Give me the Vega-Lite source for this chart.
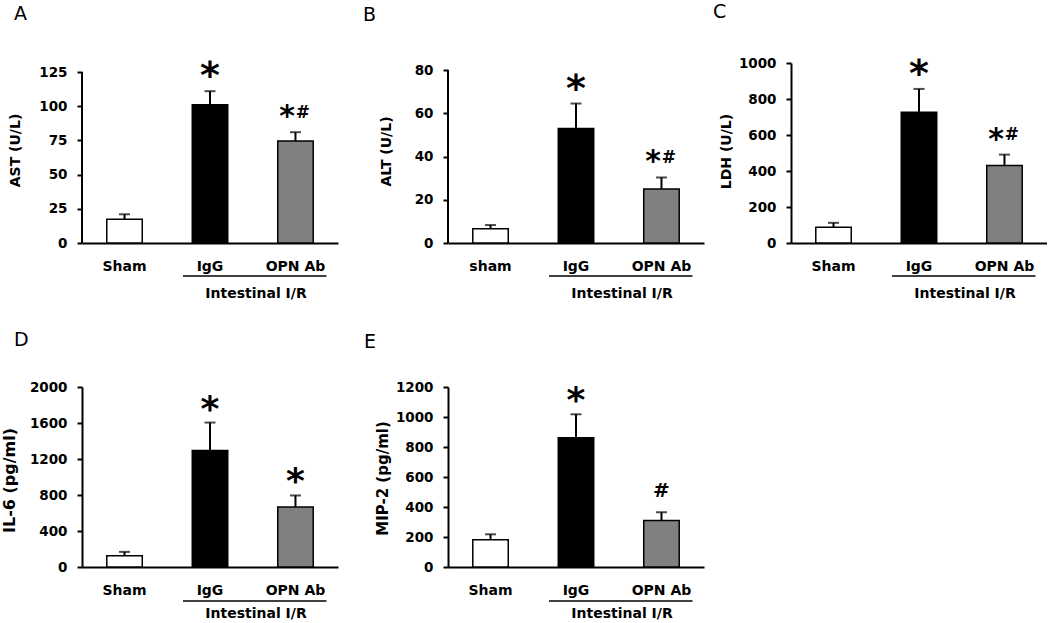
{
  "$schema": "https://vega.github.io/schema/vega-lite/v6.json",
  "padding": {"left": 0, "top": 2, "right": 0, "bottom": 0},
  "background": "white",
  "datasets": {
    "bars": [
      {"panel": "A", "group": "Sham", "value": 17.4, "upper": 21, "sig": ""},
      {"panel": "A", "group": "IgG", "value": 101, "upper": 111, "sig": "*"},
      {"panel": "A", "group": "OPN Ab", "value": 74.6, "upper": 81, "sig": "*#"},
      {"panel": "B", "group": "sham", "value": 6.6, "upper": 8.3, "sig": ""},
      {"panel": "B", "group": "IgG", "value": 53, "upper": 64.5, "sig": "*"},
      {"panel": "B", "group": "OPN Ab", "value": 25, "upper": 30.3, "sig": "*#"},
      {"panel": "C", "group": "Sham", "value": 88, "upper": 112, "sig": ""},
      {"panel": "C", "group": "IgG", "value": 726, "upper": 856, "sig": "*"},
      {"panel": "C", "group": "OPN Ab", "value": 431, "upper": 491, "sig": "*#"},
      {"panel": "D", "group": "Sham", "value": 125, "upper": 168, "sig": ""},
      {"panel": "D", "group": "IgG", "value": 1295, "upper": 1605, "sig": "*"},
      {"panel": "D", "group": "OPN Ab", "value": 668, "upper": 795, "sig": "*"},
      {"panel": "E", "group": "Sham", "value": 182, "upper": 218, "sig": ""},
      {"panel": "E", "group": "IgG", "value": 862, "upper": 1018, "sig": "*"},
      {"panel": "E", "group": "OPN Ab", "value": 310, "upper": 365, "sig": "#"}
    ],
    "brackets": [
      {"panel": "A", "from": "IgG", "to": "OPN Ab", "label": "Intestinal I/R"},
      {"panel": "B", "from": "IgG", "to": "OPN Ab", "label": "Intestinal I/R"},
      {"panel": "C", "from": "IgG", "to": "OPN Ab", "label": "Intestinal I/R"},
      {"panel": "D", "from": "IgG", "to": "OPN Ab", "label": "Intestinal I/R"},
      {"panel": "E", "from": "IgG", "to": "OPN Ab", "label": "Intestinal I/R"}
    ]
  },
  "config": {
    "view": {"stroke": null},
    "font": "DejaVu Sans",
    "axis": {
      "grid": false, "domainColor": "black", "domainWidth": 2, "tickColor": "black", "tickWidth": 2,
      "labelColor": "black", "labelFont": "DejaVu Sans", "labelFontWeight": "bold",
      "titleColor": "black", "titleFont": "DejaVu Sans", "titleFontWeight": "bold",
      "labelOverlap": false
    },
    "axisX": {"ticks": false, "tickSize": 0, "labelPadding": 27.5, "labelBaseline": "alphabetic", "labelFontSize": 14, "labelAngle": 0},
    "axisY": {"tickSize": 5, "labelPadding": 10, "labelFontSize": 13.5, "labelFlush": false, "titleFontSize": 14, "titleAngle": -90, "titleBaseline": "middle", "titleAlign": "center", "format": "d"},
    "title": {"anchor": "start", "frame": "group", "baseline": "alphabetic", "fontSize": 19, "fontWeight": "normal", "font": "DejaVu Sans", "color": "black"}
  },
  "bounds": "flush",
  "align": "each",
  "columns": 5,
  "spacing": {"row": 144, "column": 0},
  "concat": [
    {
      "width": 256, "height": 180,
      "title": {"text": "A", "offset": 34.5, "dx": -68},
      "layer": [
        {"data": {"name": "bars"}, "transform": [{"filter": "datum.panel === 'A'"}],
         "mark": {"type": "bar", "stroke": "black", "strokeWidth": 1.5},
         "encoding": {
           "x": {"field": "group", "type": "nominal", "scale": {"domain": ["Sham", "IgG", "OPN Ab"], "paddingInner": 0.585, "paddingOuter": 0.29}, "axis": {"title": null}},
           "y": {"field": "value", "type": "quantitative", "scale": {"domain": [0, 131.6], "nice": false}, "axis": {"title": "AST (U/L)", "domain": false, "values": [0, 25, 50, 75, 100, 125], "titleX": -67, "titleY": 87}},
           "fill": {"field": "group", "type": "nominal", "scale": {"domain": ["Sham", "sham", "IgG", "OPN Ab"], "range": ["#ffffff", "#ffffff", "#000000", "#808080"]}, "legend": null}
         }},
        {"data": {"name": "bars"}, "transform": [{"filter": "datum.panel === 'A'"}],
         "mark": {"type": "rule", "color": "black", "strokeWidth": 2},
         "encoding": {"x": {"field": "group", "type": "nominal"}, "y": {"field": "value", "type": "quantitative", "axis": {"title": "AST (U/L)", "domain": false, "values": [0, 25, 50, 75, 100, 125], "titleX": -67, "titleY": 87}}, "y2": {"field": "upper"}}},
        {"data": {"name": "bars"}, "transform": [{"filter": "datum.panel === 'A'"}],
         "mark": {"type": "tick", "color": "black", "size": 11, "thickness": 2},
         "encoding": {"x": {"field": "group", "type": "nominal"}, "y": {"field": "upper", "type": "quantitative", "axis": {"title": "AST (U/L)", "domain": false, "values": [0, 25, 50, 75, 100, 125], "titleX": -67, "titleY": 87}}}},
        {"data": {"name": "bars"}, "transform": [{"filter": "datum.panel === 'A' && datum.group === 'Sham'"}],
         "mark": {"type": "rule", "color": "black", "strokeWidth": 2},
         "encoding": {"x": {"value": 0}, "y": {"datum": 0, "type": "quantitative", "axis": {"title": "AST (U/L)", "domain": false, "values": [0, 25, 50, 75, 100, 125], "titleX": -67, "titleY": 87}}, "y2": {"datum": 125}}},
        {"data": {"name": "bars"}, "transform": [{"filter": "datum.panel === 'A' && datum.sig === '*'"}],
         "mark": {"type": "text", "text": "*", "fontSize": 38, "fontWeight": "bold", "align": "center", "baseline": "alphabetic", "dy": -3},
         "encoding": {"x": {"field": "group", "type": "nominal"}, "y": {"field": "upper", "type": "quantitative", "axis": {"title": "AST (U/L)", "domain": false, "values": [0, 25, 50, 75, 100, 125], "titleX": -67, "titleY": 87}}}},
        {"data": {"name": "bars"}, "transform": [{"filter": "datum.panel === 'A' && datum.sig === '*#'"}],
         "mark": {"type": "text", "text": "*", "fontSize": 30, "fontWeight": "bold", "align": "center", "baseline": "alphabetic", "dx": -8.5, "dy": -6},
         "encoding": {"x": {"field": "group", "type": "nominal"}, "y": {"field": "upper", "type": "quantitative", "axis": {"title": "AST (U/L)", "domain": false, "values": [0, 25, 50, 75, 100, 125], "titleX": -67, "titleY": 87}}}},
        {"data": {"name": "bars"}, "transform": [{"filter": "datum.panel === 'A' && datum.sig === '*#'"}],
         "mark": {"type": "text", "text": "#", "fontSize": 17, "fontWeight": "bold", "align": "center", "baseline": "alphabetic", "dx": 7.5, "dy": -14.5},
         "encoding": {"x": {"field": "group", "type": "nominal"}, "y": {"field": "upper", "type": "quantitative", "axis": {"title": "AST (U/L)", "domain": false, "values": [0, 25, 50, 75, 100, 125], "titleX": -67, "titleY": 87}}}},
        {"data": {"name": "brackets"}, "transform": [{"filter": "datum.panel === 'A'"}],
         "mark": {"type": "rule", "color": "black", "strokeWidth": 1.5, "xOffset": -27, "x2Offset": 31, "yOffset": 33},
         "encoding": {"x": {"field": "from", "type": "nominal"}, "x2": {"field": "to"}, "y": {"value": "height"}}},
        {"data": {"name": "brackets"}, "transform": [{"filter": "datum.panel === 'A'"}],
         "mark": {"type": "text", "fontSize": 14, "fontWeight": "bold", "align": "center", "baseline": "alphabetic", "dx": 46, "dy": 55},
         "encoding": {"x": {"field": "from", "type": "nominal"}, "y": {"value": "height"}, "text": {"field": "label"}}}
      ]
    },
    {"width": 110, "height": 1, "data": {"values": []}, "mark": "text", "encoding": {}},
    {
      "width": 256, "height": 180,
      "title": {"text": "B", "offset": 38, "dx": -85},
      "layer": [
        {"data": {"name": "bars"}, "transform": [{"filter": "datum.panel === 'B'"}],
         "mark": {"type": "bar", "stroke": "black", "strokeWidth": 1.5},
         "encoding": {
           "x": {"field": "group", "type": "nominal", "scale": {"domain": ["sham", "IgG", "OPN Ab"], "paddingInner": 0.585, "paddingOuter": 0.29}, "axis": {"title": null}},
           "y": {"field": "value", "type": "quantitative", "scale": {"domain": [0, 83.24], "nice": false}, "axis": {"title": "ALT (U/L)", "domain": false, "values": [0, 20, 40, 60, 80], "titleX": -62, "titleY": 88}},
           "fill": {"field": "group", "type": "nominal", "scale": {"domain": ["Sham", "sham", "IgG", "OPN Ab"], "range": ["#ffffff", "#ffffff", "#000000", "#808080"]}, "legend": null}
         }},
        {"data": {"name": "bars"}, "transform": [{"filter": "datum.panel === 'B'"}],
         "mark": {"type": "rule", "color": "black", "strokeWidth": 2},
         "encoding": {"x": {"field": "group", "type": "nominal"}, "y": {"field": "value", "type": "quantitative", "axis": {"title": "ALT (U/L)", "domain": false, "values": [0, 20, 40, 60, 80], "titleX": -62, "titleY": 88}}, "y2": {"field": "upper"}}},
        {"data": {"name": "bars"}, "transform": [{"filter": "datum.panel === 'B'"}],
         "mark": {"type": "tick", "color": "black", "size": 11, "thickness": 2},
         "encoding": {"x": {"field": "group", "type": "nominal"}, "y": {"field": "upper", "type": "quantitative", "axis": {"title": "ALT (U/L)", "domain": false, "values": [0, 20, 40, 60, 80], "titleX": -62, "titleY": 88}}}},
        {"data": {"name": "bars"}, "transform": [{"filter": "datum.panel === 'B' && datum.group === 'sham'"}],
         "mark": {"type": "rule", "color": "black", "strokeWidth": 2},
         "encoding": {"x": {"value": 0}, "y": {"datum": 0, "type": "quantitative", "axis": {"title": "ALT (U/L)", "domain": false, "values": [0, 20, 40, 60, 80], "titleX": -62, "titleY": 88}}, "y2": {"datum": 80}}},
        {"data": {"name": "bars"}, "transform": [{"filter": "datum.panel === 'B' && datum.sig === '*'"}],
         "mark": {"type": "text", "text": "*", "fontSize": 38, "fontWeight": "bold", "align": "center", "baseline": "alphabetic", "dy": -3},
         "encoding": {"x": {"field": "group", "type": "nominal"}, "y": {"field": "upper", "type": "quantitative", "axis": {"title": "ALT (U/L)", "domain": false, "values": [0, 20, 40, 60, 80], "titleX": -62, "titleY": 88}}}},
        {"data": {"name": "bars"}, "transform": [{"filter": "datum.panel === 'B' && datum.sig === '*#'"}],
         "mark": {"type": "text", "text": "*", "fontSize": 30, "fontWeight": "bold", "align": "center", "baseline": "alphabetic", "dx": -8.5, "dy": -6},
         "encoding": {"x": {"field": "group", "type": "nominal"}, "y": {"field": "upper", "type": "quantitative", "axis": {"title": "ALT (U/L)", "domain": false, "values": [0, 20, 40, 60, 80], "titleX": -62, "titleY": 88}}}},
        {"data": {"name": "bars"}, "transform": [{"filter": "datum.panel === 'B' && datum.sig === '*#'"}],
         "mark": {"type": "text", "text": "#", "fontSize": 17, "fontWeight": "bold", "align": "center", "baseline": "alphabetic", "dx": 7.5, "dy": -14.5},
         "encoding": {"x": {"field": "group", "type": "nominal"}, "y": {"field": "upper", "type": "quantitative", "axis": {"title": "ALT (U/L)", "domain": false, "values": [0, 20, 40, 60, 80], "titleX": -62, "titleY": 88}}}},
        {"data": {"name": "brackets"}, "transform": [{"filter": "datum.panel === 'B'"}],
         "mark": {"type": "rule", "color": "black", "strokeWidth": 1.5, "xOffset": -27, "x2Offset": 31, "yOffset": 33},
         "encoding": {"x": {"field": "from", "type": "nominal"}, "x2": {"field": "to"}, "y": {"value": "height"}}},
        {"data": {"name": "brackets"}, "transform": [{"filter": "datum.panel === 'B'"}],
         "mark": {"type": "text", "fontSize": 14, "fontWeight": "bold", "align": "center", "baseline": "alphabetic", "dx": 46, "dy": 55},
         "encoding": {"x": {"field": "from", "type": "nominal"}, "y": {"value": "height"}, "text": {"field": "label"}}}
      ]
    },
    {"width": 87, "height": 1, "data": {"values": []}, "mark": "text", "encoding": {}},
    {
      "width": 256, "height": 180,
      "title": {"text": "C", "offset": 34, "dx": -78},
      "layer": [
        {"data": {"name": "bars"}, "transform": [{"filter": "datum.panel === 'C'"}],
         "mark": {"type": "bar", "stroke": "black", "strokeWidth": 1.5},
         "encoding": {
           "x": {"field": "group", "type": "nominal", "scale": {"domain": ["Sham", "IgG", "OPN Ab"], "paddingInner": 0.585, "paddingOuter": 0.29}, "axis": {"title": null}},
           "y": {"field": "value", "type": "quantitative", "scale": {"domain": [0, 1000], "nice": false}, "axis": {"title": "LDH (U/L)", "values": [0, 200, 400, 600, 800, 1000], "titleX": -65, "titleY": 88}},
           "fill": {"field": "group", "type": "nominal", "scale": {"domain": ["Sham", "sham", "IgG", "OPN Ab"], "range": ["#ffffff", "#ffffff", "#000000", "#808080"]}, "legend": null}
         }},
        {"data": {"name": "bars"}, "transform": [{"filter": "datum.panel === 'C'"}],
         "mark": {"type": "rule", "color": "black", "strokeWidth": 2},
         "encoding": {"x": {"field": "group", "type": "nominal"}, "y": {"field": "value", "type": "quantitative", "axis": {"title": "LDH (U/L)", "values": [0, 200, 400, 600, 800, 1000], "titleX": -65, "titleY": 88}}, "y2": {"field": "upper"}}},
        {"data": {"name": "bars"}, "transform": [{"filter": "datum.panel === 'C'"}],
         "mark": {"type": "tick", "color": "black", "size": 11, "thickness": 2},
         "encoding": {"x": {"field": "group", "type": "nominal"}, "y": {"field": "upper", "type": "quantitative", "axis": {"title": "LDH (U/L)", "values": [0, 200, 400, 600, 800, 1000], "titleX": -65, "titleY": 88}}}},
        {"data": {"name": "bars"}, "transform": [{"filter": "datum.panel === 'C' && datum.sig === '*'"}],
         "mark": {"type": "text", "text": "*", "fontSize": 38, "fontWeight": "bold", "align": "center", "baseline": "alphabetic", "dy": -3},
         "encoding": {"x": {"field": "group", "type": "nominal"}, "y": {"field": "upper", "type": "quantitative", "axis": {"title": "LDH (U/L)", "values": [0, 200, 400, 600, 800, 1000], "titleX": -65, "titleY": 88}}}},
        {"data": {"name": "bars"}, "transform": [{"filter": "datum.panel === 'C' && datum.sig === '*#'"}],
         "mark": {"type": "text", "text": "*", "fontSize": 30, "fontWeight": "bold", "align": "center", "baseline": "alphabetic", "dx": -8.5, "dy": -6},
         "encoding": {"x": {"field": "group", "type": "nominal"}, "y": {"field": "upper", "type": "quantitative", "axis": {"title": "LDH (U/L)", "values": [0, 200, 400, 600, 800, 1000], "titleX": -65, "titleY": 88}}}},
        {"data": {"name": "bars"}, "transform": [{"filter": "datum.panel === 'C' && datum.sig === '*#'"}],
         "mark": {"type": "text", "text": "#", "fontSize": 17, "fontWeight": "bold", "align": "center", "baseline": "alphabetic", "dx": 7.5, "dy": -14.5},
         "encoding": {"x": {"field": "group", "type": "nominal"}, "y": {"field": "upper", "type": "quantitative", "axis": {"title": "LDH (U/L)", "values": [0, 200, 400, 600, 800, 1000], "titleX": -65, "titleY": 88}}}},
        {"data": {"name": "brackets"}, "transform": [{"filter": "datum.panel === 'C'"}],
         "mark": {"type": "rule", "color": "black", "strokeWidth": 1.5, "xOffset": -27, "x2Offset": 31, "yOffset": 33},
         "encoding": {"x": {"field": "from", "type": "nominal"}, "x2": {"field": "to"}, "y": {"value": "height"}}},
        {"data": {"name": "brackets"}, "transform": [{"filter": "datum.panel === 'C'"}],
         "mark": {"type": "text", "fontSize": 14, "fontWeight": "bold", "align": "center", "baseline": "alphabetic", "dx": 46, "dy": 55},
         "encoding": {"x": {"field": "from", "type": "nominal"}, "y": {"value": "height"}, "text": {"field": "label"}}}
      ]
    },
    {
      "width": 256, "height": 180,
      "title": {"text": "D", "offset": 30, "dx": -68},
      "layer": [
        {"data": {"name": "bars"}, "transform": [{"filter": "datum.panel === 'D'"}],
         "mark": {"type": "bar", "stroke": "black", "strokeWidth": 1.5},
         "encoding": {
           "x": {"field": "group", "type": "nominal", "scale": {"domain": ["Sham", "IgG", "OPN Ab"], "paddingInner": 0.585, "paddingOuter": 0.29}, "axis": {"title": null}},
           "y": {"field": "value", "type": "quantitative", "scale": {"domain": [0, 2000], "nice": false}, "axis": {"title": "IL-6 (pg/ml)", "titleFontSize": 16, "values": [0, 400, 800, 1200, 1600, 2000], "titleX": -73, "titleY": 93}},
           "fill": {"field": "group", "type": "nominal", "scale": {"domain": ["Sham", "sham", "IgG", "OPN Ab"], "range": ["#ffffff", "#ffffff", "#000000", "#808080"]}, "legend": null}
         }},
        {"data": {"name": "bars"}, "transform": [{"filter": "datum.panel === 'D'"}],
         "mark": {"type": "rule", "color": "black", "strokeWidth": 2},
         "encoding": {"x": {"field": "group", "type": "nominal"}, "y": {"field": "value", "type": "quantitative", "axis": {"title": "IL-6 (pg/ml)", "titleFontSize": 16, "values": [0, 400, 800, 1200, 1600, 2000], "titleX": -73, "titleY": 93}}, "y2": {"field": "upper"}}},
        {"data": {"name": "bars"}, "transform": [{"filter": "datum.panel === 'D'"}],
         "mark": {"type": "tick", "color": "black", "size": 11, "thickness": 2},
         "encoding": {"x": {"field": "group", "type": "nominal"}, "y": {"field": "upper", "type": "quantitative", "axis": {"title": "IL-6 (pg/ml)", "titleFontSize": 16, "values": [0, 400, 800, 1200, 1600, 2000], "titleX": -73, "titleY": 93}}}},
        {"data": {"name": "bars"}, "transform": [{"filter": "datum.panel === 'D' && datum.sig === '*'"}],
         "mark": {"type": "text", "text": "*", "fontSize": 36, "fontWeight": "bold", "align": "center", "baseline": "alphabetic", "dy": -2},
         "encoding": {"x": {"field": "group", "type": "nominal"}, "y": {"field": "upper", "type": "quantitative", "axis": {"title": "IL-6 (pg/ml)", "titleFontSize": 16, "values": [0, 400, 800, 1200, 1600, 2000], "titleX": -73, "titleY": 93}}}},
        {"data": {"name": "brackets"}, "transform": [{"filter": "datum.panel === 'D'"}],
         "mark": {"type": "rule", "color": "black", "strokeWidth": 1.5, "xOffset": -27, "x2Offset": 31, "yOffset": 34},
         "encoding": {"x": {"field": "from", "type": "nominal"}, "x2": {"field": "to"}, "y": {"value": "height"}}},
        {"data": {"name": "brackets"}, "transform": [{"filter": "datum.panel === 'D'"}],
         "mark": {"type": "text", "fontSize": 14, "fontWeight": "bold", "align": "center", "baseline": "alphabetic", "dx": 46, "dy": 51},
         "encoding": {"x": {"field": "from", "type": "nominal"}, "y": {"value": "height"}, "text": {"field": "label"}}}
      ]
    },
    {"width": 110, "height": 1, "data": {"values": []}, "mark": "text", "encoding": {}},
    {
      "width": 256, "height": 180,
      "title": {"text": "E", "offset": 28.5, "dx": -84},
      "layer": [
        {"data": {"name": "bars"}, "transform": [{"filter": "datum.panel === 'E'"}],
         "mark": {"type": "bar", "stroke": "black", "strokeWidth": 1.5},
         "encoding": {
           "x": {"field": "group", "type": "nominal", "scale": {"domain": ["Sham", "IgG", "OPN Ab"], "paddingInner": 0.585, "paddingOuter": 0.29}, "axis": {"title": null}},
           "y": {"field": "value", "type": "quantitative", "scale": {"domain": [0, 1200], "nice": false}, "axis": {"title": "MIP-2 (pg/ml)", "titleFontSize": 15, "values": [0, 200, 400, 600, 800, 1000, 1200], "titleX": -66, "titleY": 91}},
           "fill": {"field": "group", "type": "nominal", "scale": {"domain": ["Sham", "sham", "IgG", "OPN Ab"], "range": ["#ffffff", "#ffffff", "#000000", "#808080"]}, "legend": null}
         }},
        {"data": {"name": "bars"}, "transform": [{"filter": "datum.panel === 'E'"}],
         "mark": {"type": "rule", "color": "black", "strokeWidth": 2},
         "encoding": {"x": {"field": "group", "type": "nominal"}, "y": {"field": "value", "type": "quantitative", "axis": {"title": "MIP-2 (pg/ml)", "titleFontSize": 15, "values": [0, 200, 400, 600, 800, 1000, 1200], "titleX": -66, "titleY": 91}}, "y2": {"field": "upper"}}},
        {"data": {"name": "bars"}, "transform": [{"filter": "datum.panel === 'E'"}],
         "mark": {"type": "tick", "color": "black", "size": 11, "thickness": 2},
         "encoding": {"x": {"field": "group", "type": "nominal"}, "y": {"field": "upper", "type": "quantitative", "axis": {"title": "MIP-2 (pg/ml)", "titleFontSize": 15, "values": [0, 200, 400, 600, 800, 1000, 1200], "titleX": -66, "titleY": 91}}}},
        {"data": {"name": "bars"}, "transform": [{"filter": "datum.panel === 'E' && datum.sig === '*'"}],
         "mark": {"type": "text", "text": "*", "fontSize": 36, "fontWeight": "bold", "align": "center", "baseline": "alphabetic", "dy": -2},
         "encoding": {"x": {"field": "group", "type": "nominal"}, "y": {"field": "upper", "type": "quantitative", "axis": {"title": "MIP-2 (pg/ml)", "titleFontSize": 15, "values": [0, 200, 400, 600, 800, 1000, 1200], "titleX": -66, "titleY": 91}}}},
        {"data": {"name": "bars"}, "transform": [{"filter": "datum.panel === 'E' && datum.sig === '#'"}],
         "mark": {"type": "text", "text": "#", "fontSize": 20, "fontWeight": "bold", "align": "center", "baseline": "alphabetic", "dy": -15},
         "encoding": {"x": {"field": "group", "type": "nominal"}, "y": {"field": "upper", "type": "quantitative", "axis": {"title": "MIP-2 (pg/ml)", "titleFontSize": 15, "values": [0, 200, 400, 600, 800, 1000, 1200], "titleX": -66, "titleY": 91}}}},
        {"data": {"name": "brackets"}, "transform": [{"filter": "datum.panel === 'E'"}],
         "mark": {"type": "rule", "color": "black", "strokeWidth": 1.5, "xOffset": -27, "x2Offset": 31, "yOffset": 34},
         "encoding": {"x": {"field": "from", "type": "nominal"}, "x2": {"field": "to"}, "y": {"value": "height"}}},
        {"data": {"name": "brackets"}, "transform": [{"filter": "datum.panel === 'E'"}],
         "mark": {"type": "text", "fontSize": 14, "fontWeight": "bold", "align": "center", "baseline": "alphabetic", "dx": 46, "dy": 51},
         "encoding": {"x": {"field": "from", "type": "nominal"}, "y": {"value": "height"}, "text": {"field": "label"}}}
      ]
    }
  ]
}
